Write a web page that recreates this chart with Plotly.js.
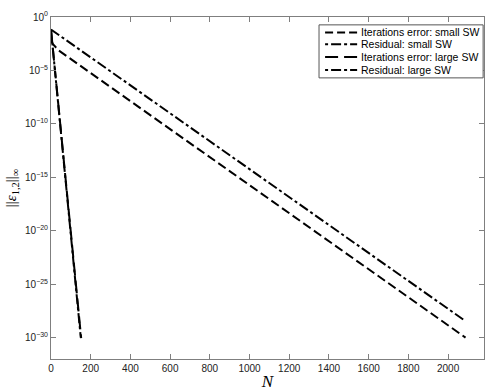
<!DOCTYPE html>
<html>
<head>
<meta charset="utf-8">
<script src="https://cdn.plot.ly/plotly-3.0.1.min.js"></script>
<style>html,body{margin:0;padding:0;background:#fff;}#chart{width:500px;height:391px;}</style>
</head>
<body>
<div id="chart"></div>
<script>
// Data
const iterSmallN = [0, 10, 40, 2088];
const iterSmallErr = [6.3e-3, 2.8e-3, 7.1e-4, 1e-30];
const resSmallN = [0, 2088];
const resSmallErr = [6.8e-2, 3.5e-29];
const iterLargeN = [0, 152];
const iterLargeErr = [6.5e-2, 9e-31];
const resLargeN = [0, 150];
const resLargeErr = [6.8e-2, 1e-30];
const seriesNames = ['Iterations error: small SW', 'Residual: small SW', 'Iterations error: large SW', 'Residual: large SW'];
const yTickVals = [1, 1e-5, 1e-10, 1e-15, 1e-20, 1e-25, 1e-30];
const yTickText = ['10<sup>0</sup>', '10<sup>−5</sup>', '10<sup>−10</sup>', '10<sup>−15</sup>', '10<sup>−20</sup>', '10<sup>−25</sup>', '10<sup>−30</sup>'];

const dashes = ['9px,4px', '10px,3px,3px,3px', '13px,5px', '10px,3px,3px,3px'];
const xs = [iterSmallN, resSmallN, iterLargeN, resLargeN];
const ys = [iterSmallErr, resSmallErr, iterLargeErr, resLargeErr];
const traces = xs.map((x, i) => ({
  x: x, y: ys[i], name: seriesNames[i], mode: 'lines',
  line: {color: '#000', width: 2, dash: dashes[i]}, showlegend: false
}));

// Compact legend (MATLAB style) drawn with shapes + annotations in paper coords
const legendDash = ['8px,4px', '3px,3px,10px,3px', '13px,6px', '3px,3px,10px,3px'];
const rowY = [0.955, 0.920, 0.883, 0.845];
const shapes = [{type: 'rect', xref: 'paper', yref: 'paper', x0: 0.619, x1: 0.998, y0: 0.822, y1: 0.977,
  line: {color: '#555', width: 1}, fillcolor: '#fff', layer: 'above'}];
const annotations = [];
seriesNames.forEach((name, i) => {
  shapes.push({type: 'line', xref: 'paper', yref: 'paper', x0: 0.633, x1: 0.707, y0: rowY[i], y1: rowY[i],
    line: {color: '#000', width: 2, dash: legendDash[i]}, layer: 'above'});
  annotations.push({xref: 'paper', yref: 'paper', x: 0.711, y: rowY[i], xanchor: 'left', yanchor: 'middle',
    text: name, showarrow: false, font: {family: 'Liberation Sans, Arial, sans-serif', size: 10.5, color: '#000'}});
});

const axisCommon = {
  showline: true, linecolor: '#7f7f7f', linewidth: 1, mirror: 'ticks',
  ticks: 'inside', ticklen: 5, tickcolor: '#7f7f7f', showgrid: false, zeroline: false,
  tickfont: {family: 'Liberation Sans, Arial, sans-serif', size: 10, color: '#222'}
};

const layout = {
  width: 500, height: 391,
  margin: {l: 51, r: 16, t: 17, b: 32},
  paper_bgcolor: '#fff', plot_bgcolor: '#fff',
  showlegend: false,
  shapes: shapes, annotations: annotations,
  xaxis: Object.assign({}, axisCommon, {
    range: [0, 2181], tick0: 0, dtick: 200,
    title: {text: '<i>N</i>', font: {family: 'Liberation Serif, Times New Roman, serif', size: 17, color: '#000'}, standoff: 6}
  }),
  yaxis: Object.assign({}, axisCommon, {
    type: 'log', range: [-32, 0],
    tickmode: 'array', tickvals: yTickVals, ticktext: yTickText,
    title: {text: '||<i>ε</i><sub>1,2</sub>||<sub>∞</sub>', font: {family: 'Liberation Serif, Times New Roman, serif', size: 15, color: '#000'}, standoff: 4}
  })
};

Plotly.newPlot('chart', traces, layout, {displayModeBar: false, staticPlot: true});
</script>
</body>
</html>
